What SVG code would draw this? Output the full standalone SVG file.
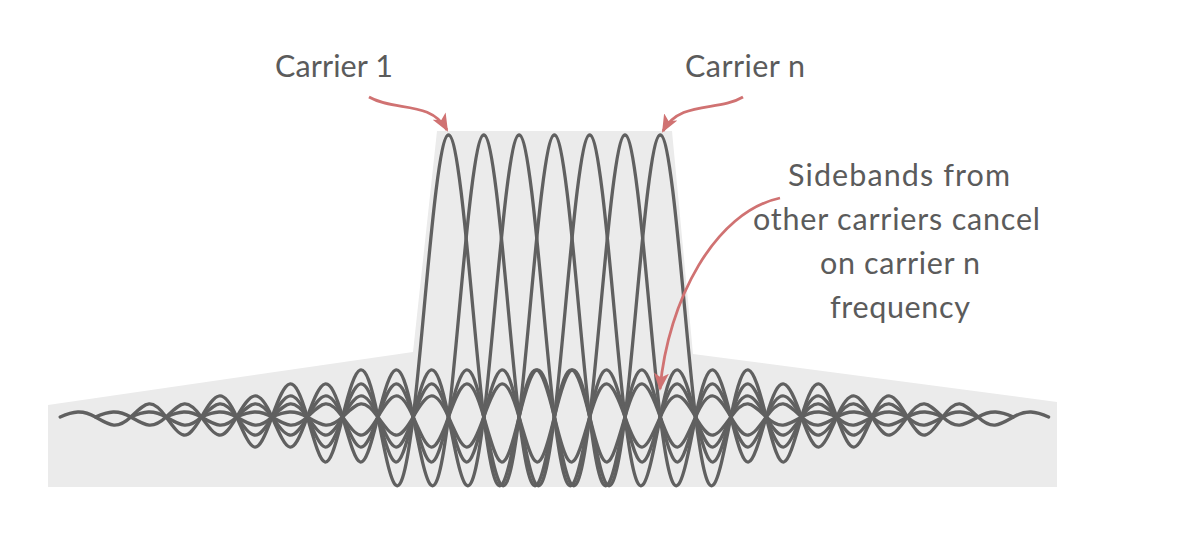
<svg xmlns="http://www.w3.org/2000/svg" xmlns:xlink="http://www.w3.org/1999/xlink" width="1200" height="554" viewBox="0 0 1200 554">
<style>
.wave{fill:none;stroke:#606060;stroke-width:3.3;stroke-linejoin:round;stroke-linecap:round}
.lbl{font-family:Lato,"Liberation Sans",sans-serif;font-size:30.5px;fill:#5b5b5b}
.arr{fill:none;stroke:#d07272;stroke-width:2.8;marker-end:url(#ah)}
</style>
<defs>
<marker id="ah" viewBox="0 0 18 15" refX="16" refY="7.5" markerWidth="18" markerHeight="15" orient="auto" markerUnits="userSpaceOnUse">
<path d="M0,0 L18,7.5 L0,15 L4.5,7.5 Z" fill="#d07272"/>
</marker>
<path id="carrier" d="M -388.3 0 C -375.3 -5.8, -366 -7.5, -353 0 C -338.96 8.1, -331.74 13.2, -317.7 0 C -302.76 -14.0, -297.34 -20.6, -282.4 0 C -266.96 21.3, -262.54 26.7, -247.1 0 C -233.1 -24.2, -225.8 -31.8, -211.8 0 C -196.02 35.8, -192.28 44.2, -176.5 0 C -162.46 -39.3, -155.24 -48.7, -141.2 0 C -125.35 55.0, -121.75 65.0, -105.9 0 C -92.28 -55.8, -84.22 -69.5, -70.6 0 C -56.76 70.6, -49.14 110.7, -35.3 0 C -24.71 -84.6, -12.36 -282, 0 -282 C 12.36 -282, 24.71 -84.6, 35.3 0 C 49.14 110.7, 56.76 70.6, 70.6 0 C 84.22 -69.5, 92.28 -55.8, 105.9 0 C 121.75 65.0, 125.35 55.0, 141.2 0 C 155.24 -48.7, 162.46 -39.3, 176.5 0 C 192.28 44.2, 196.02 35.8, 211.8 0 C 225.8 -31.8, 233.1 -24.2, 247.1 0 C 262.54 26.7, 266.96 21.3, 282.4 0 C 297.34 -20.6, 302.76 -14.0, 317.7 0 C 331.74 13.2, 338.96 8.1, 353 0 C 366 -7.5, 375.3 -5.8, 388.3 0"/>
</defs>
<rect width="1200" height="554" fill="#ffffff"/>
<g id="background">
<polygon points="48,405 413,352 437,131 672,131 693,354 1057,402 1057,487 48,487" fill="#ebebeb"/>
</g>
<g id="carriers" class="wave">
<use xlink:href="#carrier" href="#carrier" transform="translate(448.5 417)"/>
<use xlink:href="#carrier" href="#carrier" transform="translate(483.8 417)"/>
<use xlink:href="#carrier" href="#carrier" transform="translate(519.1 417)"/>
<use xlink:href="#carrier" href="#carrier" transform="translate(554.4 417)"/>
<use xlink:href="#carrier" href="#carrier" transform="translate(589.7 417)"/>
<use xlink:href="#carrier" href="#carrier" transform="translate(625 417)"/>
<use xlink:href="#carrier" href="#carrier" transform="translate(660.3 417)"/>
</g>
<g id="connectors">
<path class="arr" d="M 369 97 C 395 112, 430 100, 447 130"/>
<path class="arr" d="M 743 97 C 718 112, 680 100, 663 131"/>
<path class="arr" d="M 780 198 C 715 212, 668 300, 660 389"/>
</g>
<g id="label-carrier1">
<text class="lbl" x="275" y="77" textLength="118" lengthAdjust="spacing">Carrier 1</text>
</g>
<g id="label-carriern">
<text class="lbl" x="685" y="77" textLength="120" lengthAdjust="spacing">Carrier n</text>
</g>
<g id="label-sidebands">
<text class="lbl" x="788" y="186" textLength="222" lengthAdjust="spacing">Sidebands from</text>
<text class="lbl" x="753" y="230" textLength="287" lengthAdjust="spacing">other carriers cancel</text>
<text class="lbl" x="820" y="274" textLength="160" lengthAdjust="spacing">on carrier n</text>
<text class="lbl" x="830" y="318" textLength="140" lengthAdjust="spacing">frequency</text>
</g>
</svg>
